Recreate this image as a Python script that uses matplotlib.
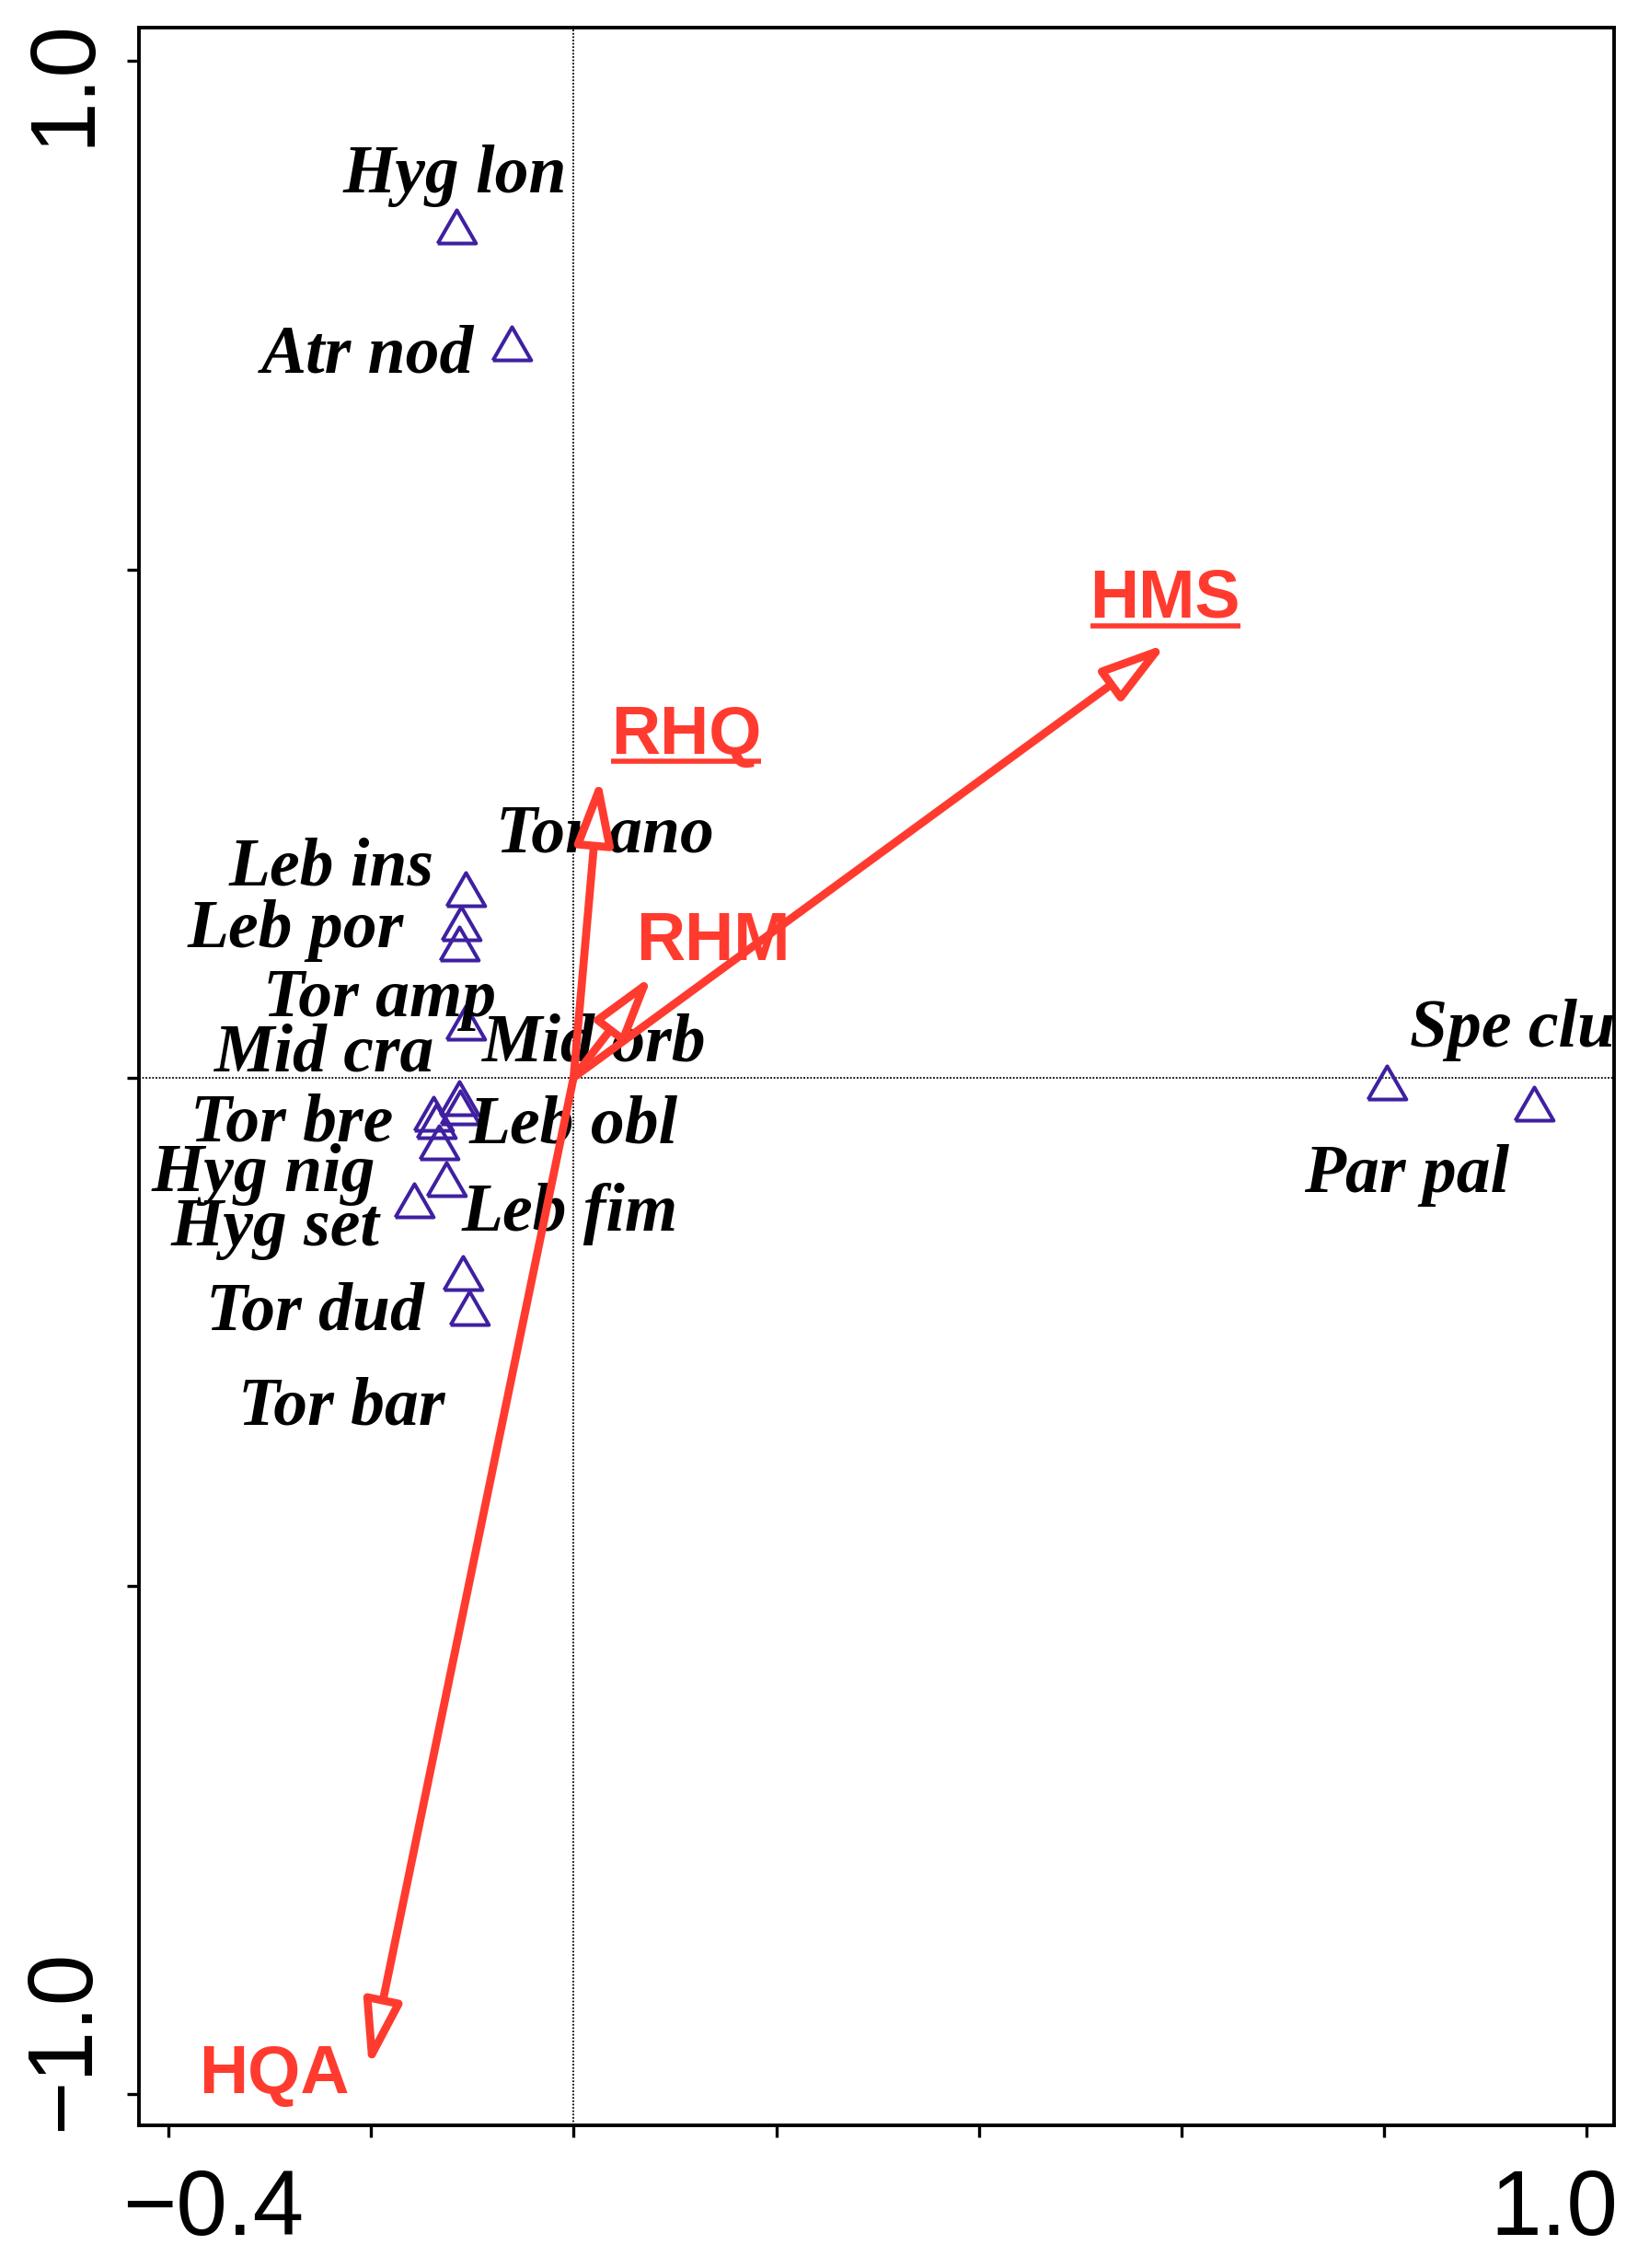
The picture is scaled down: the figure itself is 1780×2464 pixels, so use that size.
import numpy as np
import matplotlib.pyplot as plt
from matplotlib.patches import FancyArrowPatch

# species scores (open triangles)
species = ['Hyg lon', 'Atr nod', 'Leb ins', 'Leb por', 'Tor ano', 'Tor amp',
           'Mid orb', 'Leb obl', 'Tor bre', 'Mid cra', 'Hyg nig', 'Leb fim',
           'Hyg set', 'Tor dud', 'Tor bar', 'Par pal', 'Spe clu']
sp_x = [-0.116, -0.061, -0.107, -0.111, -0.113, -0.107,
        -0.113, -0.112, -0.138, -0.136, -0.133, -0.126,
        -0.157, -0.109, -0.103, 0.803, 0.948]
sp_y = [0.837, 0.722, 0.185, 0.152, 0.132, 0.054,
        -0.020, -0.029, -0.036, -0.043, -0.064, -0.100,
        -0.121, -0.192, -0.227, -0.005, -0.026]
# where each species name sits (centre, baseline)
lab_x = [-0.117, -0.203, -0.239, -0.274, 0.031, -0.191,
         0.020, 0.000, -0.278, -0.246, -0.306, -0.004,
         -0.295, -0.255, -0.229, 0.822, 0.927]
lab_y = [0.871, 0.694, 0.189, 0.128, 0.222, 0.060,
         0.016, -0.064, -0.062, 0.006, -0.112, -0.151,
         -0.165, -0.248, -0.341, -0.113, 0.030]

# environmental variables (arrows)
env = ['HMS', 'RHQ', 'RHM', 'HQA']
env_x = [0.586, 0.026, 0.078, -0.202]
env_y = [0.427, 0.296, 0.101, -0.975]
env_lab_x = [0.584, 0.111, 0.138, -0.296]
env_lab_y = [0.452, 0.318, 0.116, -0.999]
underlined = [True, True, False, False]

RED = '#FF3B2F'
PURPLE = '#3F20A0'
W, H = 1780, 2464

fig = plt.figure(figsize=(W / 100, H / 100), dpi=100)
ax = fig.add_axes([151 / W, 1 - 2309 / H, (1754 - 151) / W, (2309 - 30) / H])
ax.set_xlim(-0.429, 1.027)
ax.set_ylim(-1.031, 1.033)

for s in ax.spines.values():
    s.set_linewidth(2.8)
ax.set_xticks(np.arange(-0.4, 1.01, 0.2))
ax.set_yticks([-1.0, -0.5, 0.0, 0.5, 1.0])
ax.tick_params(direction='out', length=9.5, width=2.4, labelbottom=False, labelleft=False)

ax.axhline(0, color='k', lw=1.3, ls=(0, (1.0, 1.0)), zorder=1)
ax.axvline(0, color='k', lw=1.3, ls=(0, (1.0, 1.0)), zorder=1)

# triangle marker, centred on its bounding box
tri = [(-1, -0.866), (1, -0.866), (0, 0.866), (-1, -0.866)]
ax.plot(sp_x, sp_y, ls='none', marker=tri, ms=30, mfc='none', mec=PURPLE, mew=2.9, zorder=2)

for name, x, y in zip(species, lab_x, lab_y):
    ax.text(x, y, name, ha='center', va='baseline', fontsize=53,
            family='Liberation Serif', weight='bold', style='italic',
            color='black', clip_on=True, zorder=3)

env_texts = []
for name, x, y, lx, ly in zip(env, env_x, env_y, env_lab_x, env_lab_y):
    arr = FancyArrowPatch((0, 0), (x, y),
                          arrowstyle='-|>,head_length=4.3,head_width=1.25',
                          mutation_scale=10, lw=6.3, ec=RED, fc='white',
                          shrinkA=0, shrinkB=0, zorder=4)
    ax.add_patch(arr)
    t = ax.text(lx, ly, name, ha='center', va='baseline', fontsize=53,
                family='Liberation Sans', weight='bold', color=RED, zorder=5)
    env_texts.append(t)

# underline HMS and RHQ
fig.canvas.draw()
r = fig.canvas.get_renderer()
inv = ax.transData.inverted()
for t, u in zip(env_texts, underlined):
    if not u:
        continue
    bb = t.get_window_extent(r)
    bx, by = ax.transData.transform(t.get_position())
    (x0, yy), (x1, _) = inv.transform([(bb.x0, by - 8), (bb.x1, by - 8)])
    ax.plot([x0, x1], [yy, yy], color=RED, lw=4, solid_capstyle='butt', zorder=5)

# axis labels at the ends, as in the original
tick_font = dict(family='Liberation Sans', fontsize=72, color='black')
fig.text(133 / W, 1 - 2428 / H, '\u22120.4', ha='left', va='baseline', **tick_font)
fig.text(1758 / W, 1 - 2428 / H, '1.0', ha='right', va='baseline', **tick_font)
fig.text(96 / W, 1 - 20 / H, '1.0', ha='right', va='baseline', rotation=90,
         rotation_mode='anchor', **tick_font)
fig.text(96 / W, 1 - 2315 / H, '\u22121.0', ha='left', va='baseline', rotation=90,
         rotation_mode='anchor', **tick_font)

fig.savefig('out.png', dpi=100, facecolor='white')
